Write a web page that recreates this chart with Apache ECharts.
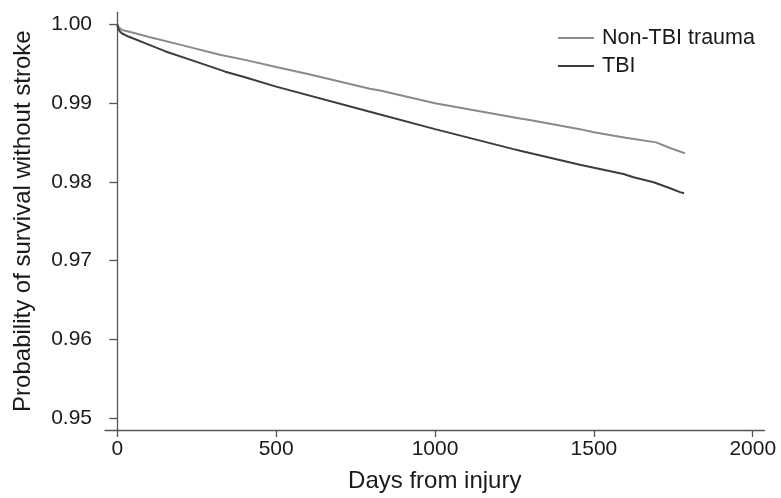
<!DOCTYPE html>
<html>
<head>
<meta charset="utf-8">
<style>
html,body{margin:0;padding:0;background:#fff;}
#chart{width:781px;height:498px;}
</style>
<script src="https://cdn.jsdelivr.net/npm/echarts@6/dist/echarts.min.js"></script>
</head>
<body>
<div id="chart"></div>
<script>
// Series names
const seriesNames = ["Non-TBI trauma", "TBI"];

// Non-TBI trauma survival curve (days, probability)
const nonTbiDays = [0, 3, 8, 15, 35, 100, 200, 323, 402, 500, 600, 795, 827, 1000, 1268, 1298, 1456, 1500, 1600, 1696, 1740, 1787];
const nonTbiProb = [1.0000, 0.9997, 0.99945, 0.9993, 0.9991, 0.9984, 0.9974, 0.99615, 0.9955, 0.9946, 0.9937, 0.99182, 0.99161, 0.9900, 0.98804, 0.98786, 0.98670, 0.9863, 0.9856, 0.98502, 0.98430, 0.98362];

// TBI survival curve (days, probability)
const tbiDays = [0, 3, 8, 15, 35, 87, 150, 245, 340, 402, 500, 795, 1000, 1247, 1268, 1456, 1593, 1625, 1688, 1740, 1771, 1784];
const tbiProb = [1.0000, 0.9995, 0.9991, 0.99885, 0.99846, 0.99763, 0.9966, 0.99531, 0.9940, 0.9933, 0.9921, 0.98892, 0.9867, 0.98416, 0.98395, 0.98218, 0.98101, 0.9806, 0.97996, 0.97920, 0.97870, 0.97855];

// Tick values
const xTicks = [0, 500, 1000, 1500, 2000];
const yTicks = [0.95, 0.96, 0.97, 0.98, 0.99, 1.00];

const font = "'Liberation Sans', Arial, Helvetica, sans-serif";
const axisColor = '#555';
const textColor = '#1a1a1a';

function pairs(xs, ys) { return xs.map((x, i) => [x, ys[i]]); }

const chart = echarts.init(document.getElementById('chart'), null, {renderer: 'canvas'});
chart.setOption({
  animation: false,
  backgroundColor: '#fff',
  textStyle: {fontFamily: font},
  grid: {left: 105, right: 16.5, top: 12.3, bottom: 65.3, containLabel: false},
  legend: {
    orient: 'vertical',
    left: 553,
    top: 19,
    itemWidth: 36,
    itemHeight: 2,
    itemGap: 0,
    icon: 'rect',
    textStyle: {fontFamily: font, fontSize: 21.5, color: textColor, lineHeight: 28, padding: [0, 0, 0, 3]},
    data: seriesNames
  },
  xAxis: {
    type: 'value',
    min: -38.7,
    max: 2037,
    name: 'Days from injury',
    nameLocation: 'middle',
    nameGap: 39,
    nameTextStyle: {fontFamily: font, fontSize: 24, color: textColor},
    splitLine: {show: false},
    axisLine: {show: true, onZero: false, lineStyle: {color: axisColor, width: 1.3}},
    axisTick: {show: true, length: 7, lineStyle: {color: axisColor, width: 1.3}, customValues: xTicks},
    axisLabel: {fontFamily: font, fontSize: 21, color: textColor, margin: 9, customValues: xTicks, formatter: v => String(v)}
  },
  yAxis: {
    type: 'value',
    min: 0.94849,
    max: 1.00154,
    name: 'Probability of survival without stroke',
    nameLocation: 'middle',
    nameGap: 70,
    nameRotate: 90,
    nameTextStyle: {fontFamily: font, fontSize: 24, color: textColor},
    splitLine: {show: false},
    axisLine: {show: true, lineStyle: {color: axisColor, width: 1.3}},
    axisTick: {show: true, length: 8, lineStyle: {color: axisColor, width: 1.3}, customValues: yTicks},
    axisLabel: {fontFamily: font, fontSize: 21, color: textColor, margin: 13, customValues: yTicks, formatter: v => v.toFixed(2)}
  },
  series: [
    {
      name: seriesNames[0],
      type: 'line',
      data: pairs(nonTbiDays, nonTbiProb),
      showSymbol: false,
      symbol: 'none',
      lineStyle: {color: '#8a8a8a', width: 2},
      itemStyle: {color: '#8a8a8a'}
    },
    {
      name: seriesNames[1],
      type: 'line',
      data: pairs(tbiDays, tbiProb),
      showSymbol: false,
      symbol: 'none',
      lineStyle: {color: '#3c3c3c', width: 2},
      itemStyle: {color: '#3c3c3c'}
    }
  ]
});
</script>
</body>
</html>
